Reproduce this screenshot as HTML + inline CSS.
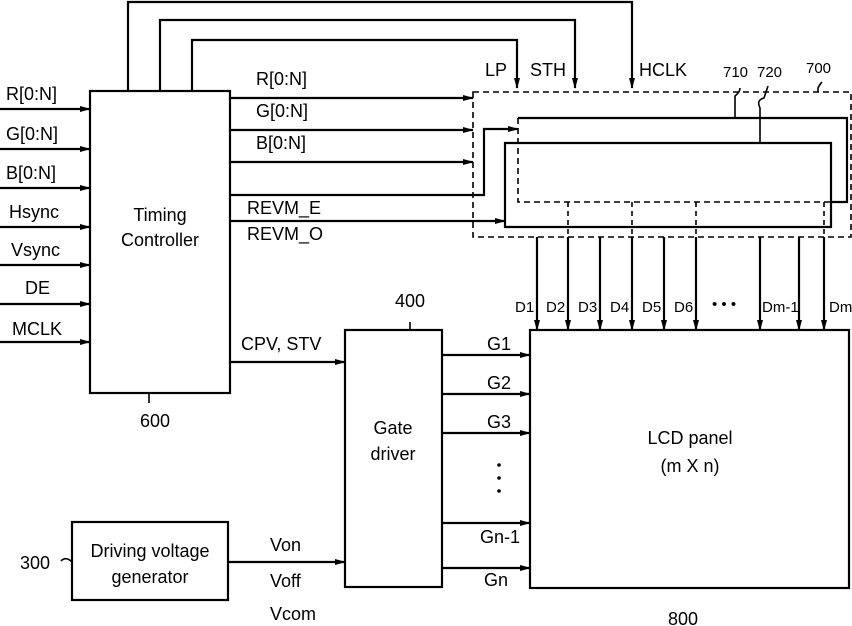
<!DOCTYPE html>
<html><head><style>body{margin:0;background:#fff}svg{display:block}text{font-family:"Liberation Sans",sans-serif;fill:#000}</style></head><body>
<svg width="852" height="626" viewBox="0 0 852 626" xmlns="http://www.w3.org/2000/svg">
<defs><marker id="a" markerWidth="11" markerHeight="8" refX="10" refY="4" orient="auto" markerUnits="userSpaceOnUse"><path d="M0,1 L11,4 L0,7 Z" fill="#000"/></marker></defs>
<g stroke="#000" stroke-width="2.2" fill="none">
<rect x="90" y="91" width="140" height="302"/>
<rect x="345" y="330" width="97" height="257"/>
<rect x="72" y="522" width="156" height="78"/>
<rect x="530" y="330" width="319" height="258"/>
<polyline points="128,91 128,2 632,2 632,88" marker-end="url(#a)"/>
<polyline points="160,91 160,20 575,20 575,88" marker-end="url(#a)"/>
<polyline points="192,91 192,40 517,40 517,88" marker-end="url(#a)"/>
<line x1="0" y1="109" x2="90" y2="109" marker-end="url(#a)"/>
<line x1="0" y1="149" x2="90" y2="149" marker-end="url(#a)"/>
<line x1="0" y1="188" x2="90" y2="188" marker-end="url(#a)"/>
<line x1="0" y1="227" x2="90" y2="227" marker-end="url(#a)"/>
<line x1="0" y1="265" x2="90" y2="265" marker-end="url(#a)"/>
<line x1="0" y1="304" x2="90" y2="304" marker-end="url(#a)"/>
<line x1="0" y1="342" x2="90" y2="342" marker-end="url(#a)"/>
<line x1="230" y1="98" x2="473" y2="98" marker-end="url(#a)"/>
<line x1="230" y1="130" x2="473" y2="130" marker-end="url(#a)"/>
<line x1="230" y1="162" x2="473" y2="162" marker-end="url(#a)"/>
<polyline points="230,195 484,195 484,129 518,129" marker-end="url(#a)"/>
<line x1="230" y1="221" x2="505" y2="221" marker-end="url(#a)"/>
<line x1="230" y1="362" x2="345" y2="362" marker-end="url(#a)"/>
<line x1="228" y1="562" x2="345" y2="562" marker-end="url(#a)"/>
<line x1="442" y1="355" x2="530" y2="355" marker-end="url(#a)"/>
<line x1="442" y1="394" x2="530" y2="394" marker-end="url(#a)"/>
<line x1="442" y1="433" x2="530" y2="433" marker-end="url(#a)"/>
<line x1="442" y1="523" x2="530" y2="523" marker-end="url(#a)"/>
<line x1="442" y1="568" x2="530" y2="568" marker-end="url(#a)"/>
<rect x="473" y="92" width="378" height="145" stroke-dasharray="6,4" stroke-width="1.6"/>
<polyline points="518,118 847,118 847,202 830,202"/>
<polyline points="518,118 518,202 830,202" stroke-dasharray="6,4" stroke-width="1.6"/>
<polyline points="831,202 831,143 505,143 505,227 831,227 831,202"/>
<line x1="537" y1="237" x2="537" y2="330" marker-end="url(#a)"/>
<line x1="568" y1="202" x2="568" y2="237" stroke-dasharray="5,4" stroke-width="1.6"/>
<line x1="568" y1="237" x2="568" y2="330" marker-end="url(#a)"/>
<line x1="600" y1="237" x2="600" y2="330" marker-end="url(#a)"/>
<line x1="632" y1="202" x2="632" y2="237" stroke-dasharray="5,4" stroke-width="1.6"/>
<line x1="632" y1="237" x2="632" y2="330" marker-end="url(#a)"/>
<line x1="664" y1="237" x2="664" y2="330" marker-end="url(#a)"/>
<line x1="696" y1="202" x2="696" y2="237" stroke-dasharray="5,4" stroke-width="1.6"/>
<line x1="696" y1="237" x2="696" y2="330" marker-end="url(#a)"/>
<line x1="760" y1="237" x2="760" y2="330" marker-end="url(#a)"/>
<line x1="799" y1="237" x2="799" y2="330" marker-end="url(#a)"/>
<line x1="824" y1="202" x2="824" y2="237" stroke-dasharray="5,4" stroke-width="1.6"/>
<line x1="824" y1="237" x2="824" y2="330" marker-end="url(#a)"/>
<path d="M735,118 L735,96 Q740,92 740,88" stroke-width="1.6"/>
<path d="M760,143 L760,108 Q756,100 764,98 L768,86" stroke-width="1.6"/>
<path d="M818,92 L818,88 Q820,84 822,82" stroke-width="1.6"/>
<path d="M149,393 L149,403" stroke-width="1.6"/>
<path d="M410,330 L410,322" stroke-width="1.6"/>
<path d="M61,561 Q66,556 72,562" stroke-width="1.6"/>
</g>
<g font-size="18">
<text x="6" y="100">R[0:N]</text><text x="6" y="140">G[0:N]</text><text x="6" y="179">B[0:N]</text>
<text x="9" y="218">Hsync</text><text x="11" y="256">Vsync</text><text x="25" y="294">DE</text><text x="12" y="335">MCLK</text>
<text x="160" y="221" text-anchor="middle">Timing</text><text x="160" y="246" text-anchor="middle">Controller</text>
<text x="256" y="85">R[0:N]</text><text x="256" y="117">G[0:N]</text><text x="256" y="149">B[0:N]</text>
<text x="247" y="214">REVM_E</text><text x="247" y="240">REVM_O</text>
<text x="241" y="350">CPV,  STV</text>
<text x="485" y="76">LP</text><text x="530" y="76">STH</text><text x="639" y="76">HCLK</text>
<text x="395" y="307">400</text><text x="140" y="427">600</text><text x="668" y="625">800</text>
<text x="20" y="569">300</text>
<text x="150" y="557" text-anchor="middle">Driving  voltage</text><text x="150" y="583" text-anchor="middle">generator</text>
<text x="270" y="551">Von</text><text x="270" y="587">Voff</text><text x="270" y="620">Vcom</text>
<text x="393" y="434" text-anchor="middle">Gate</text><text x="393" y="460" text-anchor="middle">driver</text>
<text x="487" y="350">G1</text><text x="487" y="389">G2</text><text x="487" y="428">G3</text>
<text x="480" y="543">Gn-1</text><text x="484" y="586">Gn</text>
<text x="690" y="444" text-anchor="middle">LCD panel</text><text x="690" y="472" text-anchor="middle">(m  X  n)</text>
</g>
<g font-size="15">
<text x="723" y="77">710</text><text x="757" y="77">720</text><text x="806" y="73">700</text>
<text x="515" y="312">D1</text><text x="546" y="312">D2</text><text x="578" y="312">D3</text><text x="610" y="312">D4</text>
<text x="642" y="312">D5</text><text x="674" y="312">D6</text><text x="712" y="309">• • •</text>
<text x="762" y="312">Dm-1</text><text x="829" y="312">Dm</text>
</g>
<g fill="#000"><circle cx="499" cy="465" r="1.8"/><circle cx="499" cy="478" r="1.8"/><circle cx="499" cy="491" r="1.8"/></g>
</svg>
</body></html>
